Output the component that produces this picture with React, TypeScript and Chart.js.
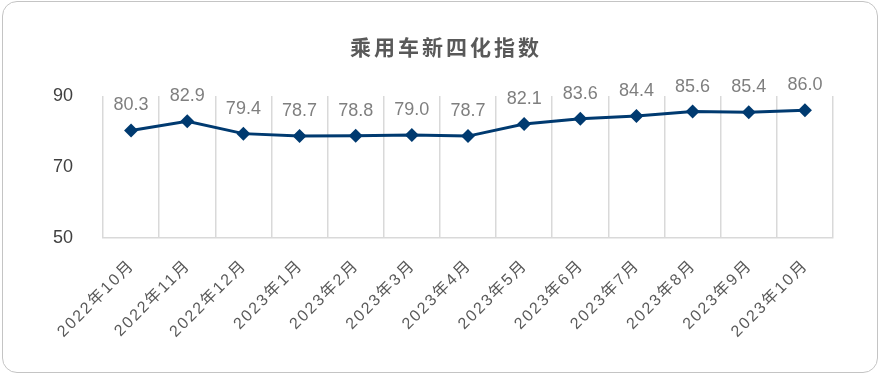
import React, { useEffect, useRef } from "react";
import { Chart, registerables } from "chart.js";

Chart.register(...registerables);

const title = "乘用车新四化指数";
const categories = [
  "2022年10月", "2022年11月", "2022年12月", "2023年1月", "2023年2月", "2023年3月",
  "2023年4月", "2023年5月", "2023年6月", "2023年7月", "2023年8月", "2023年9月", "2023年10月",
];
const values = [80.3, 82.9, 79.4, 78.7, 78.8, 79.0, 78.7, 82.1, 83.6, 84.4, 85.6, 85.4, 86.0];
const yTicks = [50, 70, 90];

const FONT = "'Liberation Sans', Arial, 'Noto Sans CJK SC', sans-serif";

const labelPlugin = {
  id: "customText",
  afterDraw(chart: any) {
    const ctx = chart.ctx;
    const area = chart.chartArea;
    // title
    ctx.save();
    ctx.font = `bold 21px ${FONT}`;
    (ctx as any).letterSpacing = "3px";
    ctx.fillStyle = "#595959";
    ctx.textAlign = "center";
    ctx.textBaseline = "middle";
    ctx.fillText(title, 446, 49);
    ctx.restore();

    // point value labels
    const meta = chart.getDatasetMeta(0);
    ctx.save();
    ctx.font = `18px ${FONT}`;
    ctx.fillStyle = "#7f7f7f";
    ctx.textAlign = "center";
    ctx.textBaseline = "bottom";
    meta.data.forEach((pt: any, i: number) => {
      ctx.fillText(values[i].toFixed(1), pt.x, pt.y - 16);
    });
    ctx.restore();

    // x category labels
    const xs = chart.scales.x;
    ctx.save();
    ctx.font = `16px ${FONT}`;
    (ctx as any).letterSpacing = "2px";
    ctx.fillStyle = "#595959";
    ctx.textAlign = "right";
    ctx.textBaseline = "middle";
    categories.forEach((c, i) => {
      const x = xs.getPixelForTick(i);
      ctx.save();
      ctx.translate(x + 1, area.bottom + 25);
      ctx.rotate(-Math.PI / 4);
      ctx.fillText(c, 0, 0);
      ctx.restore();
    });
    ctx.restore();
  },
};

export default function App() {
  const ref = useRef<HTMLCanvasElement>(null);
  useEffect(() => {
    const chart = new Chart(ref.current!, {
      type: "line",
      data: {
        labels: categories,
        datasets: [
          {
            data: values,
            borderColor: "#003a70",
            backgroundColor: "#003a70",
            borderWidth: 3,
            pointStyle: "rectRot",
            pointRadius: 7,
            pointBorderWidth: 0,
            tension: 0,
          },
        ],
      },
      options: {
        animation: false,
        responsive: false,
        layout: { padding: { left: 0, right: 47, top: 96, bottom: 0 } },
        plugins: {
          legend: { display: false },
          tooltip: { enabled: false },
          title: { display: false },
        },
        scales: {
          x: {
            offset: true,
            grid: { offset: true, color: "#d9d9d9", lineWidth: 1.5, drawTicks: false },
            border: { display: true, color: "#d9d9d9", width: 1.5 },
            ticks: { display: false, autoSkip: false },
            afterFit: (s: any) => {
              s.height = 138;
            },
          },
          y: {
            min: 50,
            max: 90,
            grid: { display: false },
            border: { display: false },
            afterBuildTicks: (s: any) => {
              s.ticks = yTicks.map((v) => ({ value: v }));
            },
            ticks: {
              color: "#404040",
              font: { family: FONT, size: 18 },
              padding: 22,
            },
            afterFit: (s: any) => {
              s.width = 103;
            },
          },
        },
      },
      plugins: [labelPlugin],
    });
    return () => chart.destroy();
  }, []);
  return (
    <div
      style={{
        position: "fixed",
        left: 0,
        top: 0,
        width: 880,
        height: 376,
        background: "#fff",
      }}
    >
      <canvas ref={ref} width={880} height={376} style={{ display: "block" }} />
      <div
        style={{
          position: "absolute",
          left: 2,
          top: 1,
          width: 876,
          height: 372,
          boxSizing: "border-box",
          border: "1px solid #c4c4c4",
          borderRadius: 15,
          pointerEvents: "none",
        }}
      />
    </div>
  );
}
